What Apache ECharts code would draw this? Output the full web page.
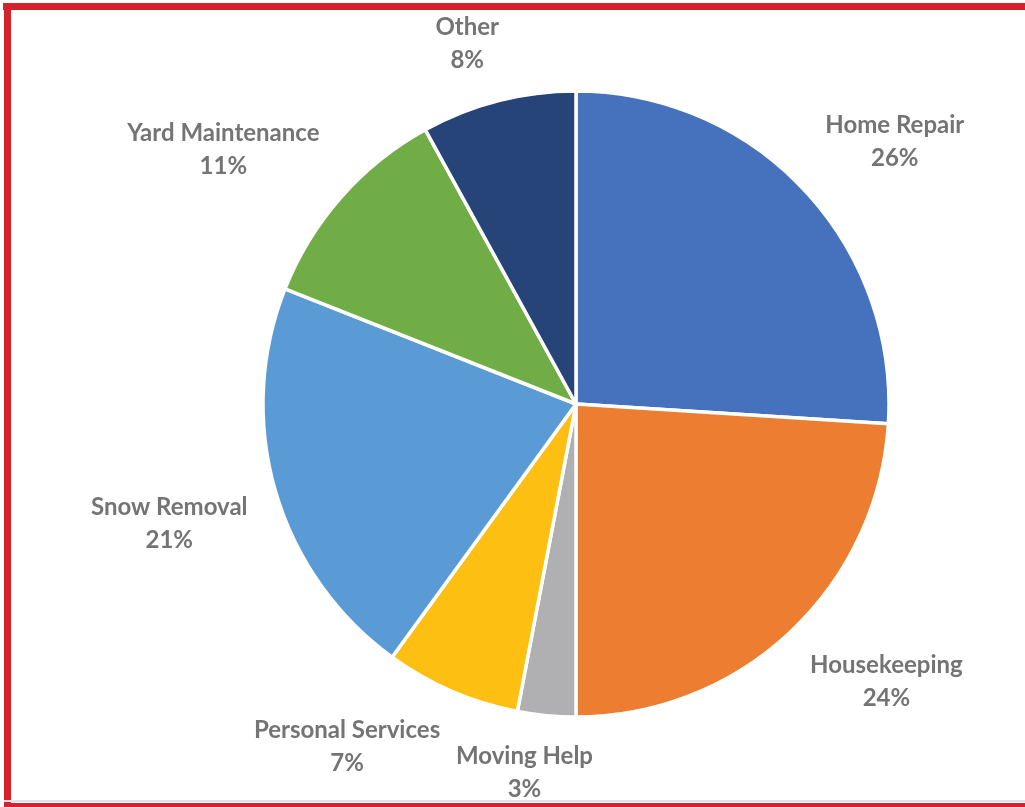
<!DOCTYPE html>
<html>
<head>
<meta charset="utf-8">
<script src="https://cdn.jsdelivr.net/npm/echarts@6/dist/echarts.min.js"></script>
<style>
  html, body { margin: 0; padding: 0; background: #ffffff; }
  #chart { width: 1025px; height: 807px; }
</style>
</head>
<body>
<div id="chart"></div>
<script>
// Share of requests by service type (percent)
const categories = ['Home Repair', 'Housekeeping', 'Moving Help', 'Personal Services', 'Snow Removal', 'Yard Maintenance', 'Other'];
const shares = [26, 24, 3, 7, 21, 11, 8];
const sliceColors = ['#4672BD', '#ED7D31', '#B0B0B2', '#FDBF12', '#5B9BD5', '#70AD47', '#264478'];

const pieData = categories.map((name, i) => ({ name: name, value: shares[i] }));

// Place each label just beyond the rim, pushing the text box away from the pie
// along the slice's mid direction (taken from the guide line geometry).
const GAP = 29;
function push(v) { return Math.max(-1, Math.min(1, v * 3)); }
function placeLabel(params) {
  const pts = params.labelLinePoints;
  if (!pts) return {};
  const p1 = pts[0], p2 = pts[1];
  let dx = p2[0] - p1[0], dy = p2[1] - p1[1];
  const len = Math.hypot(dx, dy) || 1;
  dx /= len; dy /= len;
  const w = params.labelRect.width, h = params.labelRect.height;
  return {
    x: p1[0] + dx * GAP + push(dx) * w / 2,
    y: p1[1] + dy * GAP + push(dy) * h / 2,
    align: 'center',
    verticalAlign: 'middle'
  };
}

const labelText = { fontFamily: 'Lato', fontWeight: 'bold', fontSize: 24, color: '#747474', lineHeight: 33, align: 'center' };

const chart = echarts.init(document.getElementById('chart'), null, { renderer: 'canvas' });
chart.setOption({
  animation: false,
  backgroundColor: '#ffffff',
  color: sliceColors,
  graphic: [
    // red frame
    { type: 'rect', shape: { x: 3, y: 3, width: 1022, height: 7 }, style: { fill: '#D4212C' }, silent: true },
    { type: 'rect', shape: { x: 4, y: 3, width: 7, height: 804 }, style: { fill: '#D4212C' }, silent: true },
    { type: 'rect', shape: { x: 4, y: 800, width: 1021, height: 2 }, style: { fill: '#E2E2E2' }, silent: true },
    { type: 'rect', shape: { x: 4, y: 803, width: 1021, height: 4 }, style: { fill: '#D4212C' }, silent: true }
  ],
  series: [{
    type: 'pie',
    center: [576, 404],
    radius: 313,
    startAngle: 90,
    clockwise: true,
    avoidLabelOverlap: false,
    data: pieData,
    itemStyle: { borderColor: '#ffffff', borderWidth: 3.5 },
    label: {
      show: true,
      position: 'outside',
      formatter: '{n|{b}}\n{p|{c}%}',
      rich: { n: labelText, p: labelText }
    },
    labelLine: { show: true, length: 10, length2: 0, lineStyle: { width: 0, opacity: 0 } },
    labelLayout: placeLabel,
    emphasis: { disabled: true }
  }]
});
</script>
</body>
</html>
